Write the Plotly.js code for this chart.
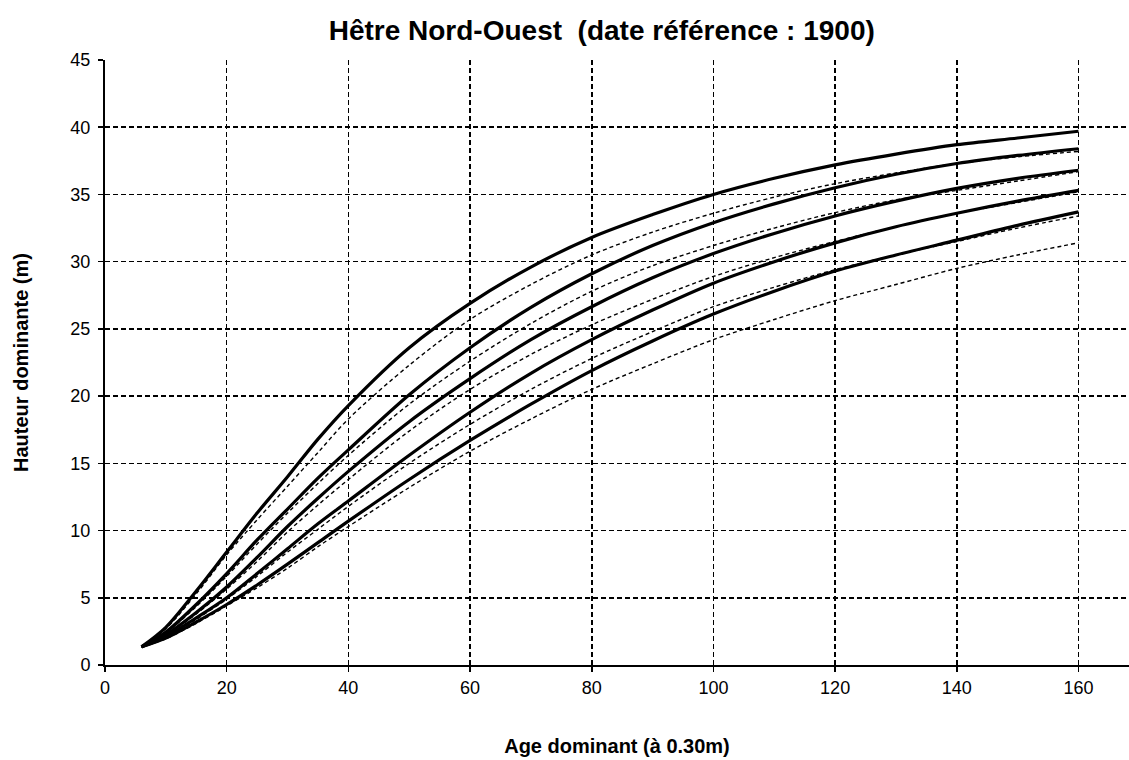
<!DOCTYPE html>
<html>
<head>
<meta charset="utf-8">
<script src="https://cdn.plot.ly/plotly-3.0.1.min.js"></script>
<style>html,body{margin:0;padding:0;background:#fff;}#chart{width:1129px;height:760px;}</style>
</head>
<body>
<div id="chart"></div>
<script>
var ages = [6, 10, 15, 20, 25, 30, 35, 40, 50, 60, 70, 80, 90, 100, 110, 120, 130, 140, 150, 160];

// Solid curves (bold)
var solid1 = [1.35, 2.8, 5.5, 8.4, 11.3, 14.0, 16.8, 19.3, 23.6, 26.9, 29.6, 31.8, 33.5, 35.0, 36.2, 37.2, 38.0, 38.7, 39.2, 39.7];
var solid2 = [1.35, 2.45, 4.5, 6.8, 9.3, 11.6, 13.9, 16.0, 20.1, 23.6, 26.6, 29.1, 31.2, 32.9, 34.3, 35.5, 36.5, 37.3, 37.9, 38.4];
var solid3 = [1.35, 2.25, 3.9, 5.8, 8.0, 10.3, 12.4, 14.4, 18.1, 21.3, 24.2, 26.65, 28.8, 30.6, 32.1, 33.4, 34.5, 35.45, 36.2, 36.8];
var solid4 = [1.35, 2.1, 3.5, 5.0, 6.8, 8.65, 10.5, 12.2, 15.6, 18.8, 21.7, 24.2, 26.4, 28.4, 30.0, 31.4, 32.6, 33.6, 34.5, 35.3];
var solid5 = [1.35, 2.0, 3.2, 4.5, 5.95, 7.5, 9.1, 10.7, 13.8, 16.7, 19.4, 21.9, 24.1, 26.1, 27.8, 29.3, 30.5, 31.6, 32.7, 33.7];

// Dashed curves (thin)
var dashed1 = [1.35, 2.7, 5.3, 8.2, 10.8, 13.3, 15.8, 18.3, 22.3, 25.7, 28.3, 30.5, 32.2, 33.6, 34.8, 35.8, 36.6, 37.3, 37.8, 38.2];
var dashed2 = [1.35, 2.4, 4.35, 6.6, 9.0, 11.3, 13.5, 15.6, 19.4, 22.6, 25.4, 27.8, 29.7, 31.2, 32.5, 33.65, 34.6, 35.3, 36.0, 36.7];
var dashed3 = [1.35, 2.2, 3.8, 5.65, 7.7, 9.9, 11.9, 13.8, 17.4, 20.5, 23.1, 25.3, 27.2, 28.9, 30.3, 31.5, 32.6, 33.6, 34.4, 35.2];
var dashed4 = [1.35, 2.05, 3.4, 4.9, 6.6, 8.4, 10.1, 11.8, 15.0, 17.9, 20.5, 22.8, 24.8, 26.65, 28.1, 29.4, 30.5, 31.5, 32.5, 33.4];
var dashed5 = [1.35, 1.95, 3.1, 4.4, 5.75, 7.2, 8.8, 10.3, 13.2, 15.9, 18.3, 20.5, 22.4, 24.2, 25.7, 27.1, 28.3, 29.5, 30.5, 31.4];

var solids = [solid1, solid2, solid3, solid4, solid5];
var dashes = [dashed1, dashed2, dashed3, dashed4, dashed5];

var traces = [];
dashes.forEach(function (ys) {
  traces.push({x: ages, y: ys, type: 'scatter', mode: 'lines', showlegend: false, hoverinfo: 'skip',
    line: {color: '#000', width: 1.4, dash: '4px,3px', shape: 'spline', smoothing: 0.9}});
});
solids.forEach(function (ys) {
  traces.push({x: ages, y: ys, type: 'scatter', mode: 'lines', showlegend: false, hoverinfo: 'skip',
    line: {color: '#000', width: 3.2, shape: 'spline', smoothing: 0.9}});
});

var layout = {
  width: 1129, height: 760,
  margin: {l: 105, r: 0, t: 60, b: 95},
  paper_bgcolor: '#fff', plot_bgcolor: '#fff',
  font: {family: 'Liberation Sans, Arial, sans-serif', color: '#000'},
  title: {text: '<b>Hêtre Nord-Ouest&nbsp; (date référence : 1900)</b>', font: {size: 28, color: '#000'},
    x: 0.533, xref: 'container', xanchor: 'center', y: 0.96, yref: 'container', yanchor: 'middle'},
  xaxis: {
    range: [0, 168.3], tickvals: [0, 20, 40, 60, 80, 100, 120, 140, 160],
    showgrid: true, gridcolor: '#000', gridwidth: 1.5, griddash: '5px,3px',
    zeroline: false, showline: true, linecolor: '#000', linewidth: 2,
    ticks: 'outside', ticklen: 5, tickwidth: 1.5, tickcolor: '#000',
    tickfont: {size: 18, color: '#000'},
    title: {text: '<b>Age dominant (à 0.30m)</b>', font: {size: 20, color: '#000'}, standoff: 42}
  },
  yaxis: {
    range: [0, 45], tickvals: [0, 5, 10, 15, 20, 25, 30, 35, 40, 45],
    showgrid: true, gridcolor: '#000', gridwidth: 1.5, griddash: '5px,3px',
    zeroline: false, showline: true, linecolor: '#000', linewidth: 2,
    ticks: 'outside', ticklen: 5, tickwidth: 1.5, tickcolor: '#000',
    tickfont: {size: 18, color: '#000'}, ticklabelstandoff: 4,
    title: {text: '<b>Hauteur dominante (m)</b>', font: {size: 20, color: '#000'}, standoff: 36}
  }
};

Plotly.newPlot('chart', traces, layout, {displayModeBar: false, staticPlot: true});
</script>
</body>
</html>
